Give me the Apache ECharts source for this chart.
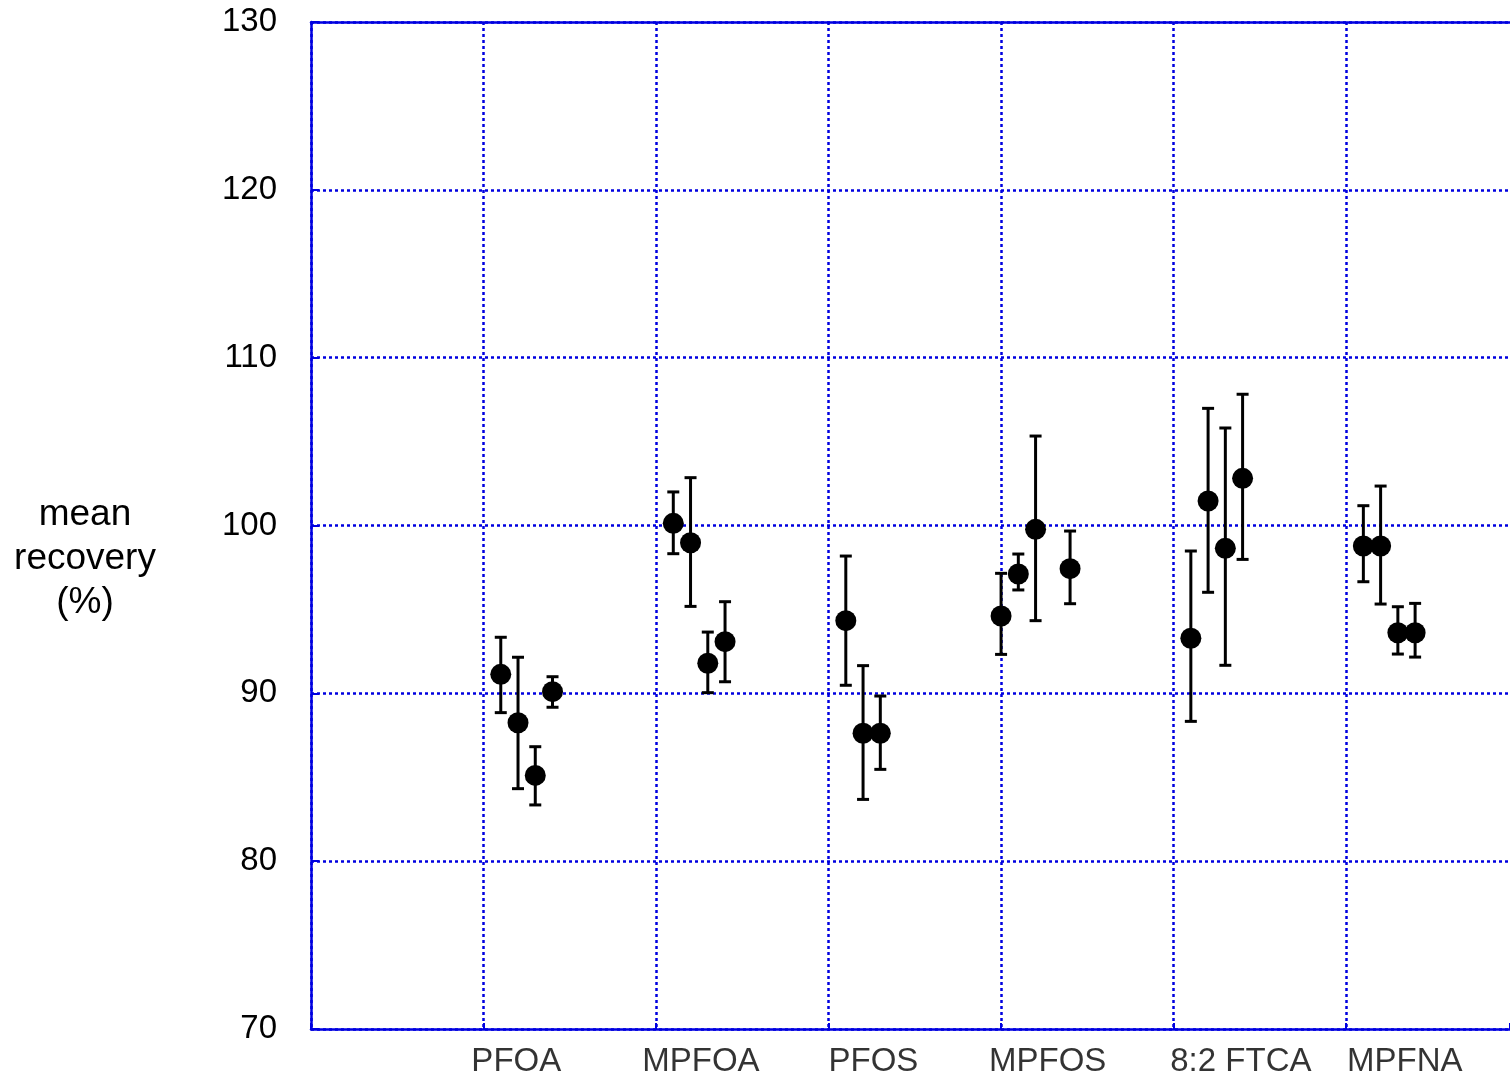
<!DOCTYPE html>
<html>
<head>
<meta charset="utf-8">
<script src="https://cdn.jsdelivr.net/npm/echarts@6/dist/echarts.min.js"></script>
<style>
  html, body { margin: 0; padding: 0; background: #fff; }
  #chart { width: 1510px; height: 1080px; }
</style>
</head>
<body>
<div id="chart"></div>
<script>
// compound labels and where they sit on the x scale
const compounds = ['PFOA', 'MPFOA', 'PFOS', 'MPFOS', '8:2 FTCA', 'MPFNA'];
const labelPos = [1.19, 2.26, 3.26, 4.27, 5.39, 6.34];

// each point: [x position, mean, lower, upper]
const pfoa = [[1.1, 91.13, 88.85, 93.34], [1.2, 88.25, 84.32, 92.15], [1.3, 85.11, 83.35, 86.82], [1.4, 90.10, 89.17, 90.99]];
const mpfoa = [[2.1, 100.13, 98.32, 102.0], [2.2, 98.97, 95.18, 102.85], [2.3, 91.79, 90.04, 93.65], [2.4, 93.08, 90.69, 95.46]];
const pfos = [[3.1, 94.33, 90.48, 98.18], [3.2, 87.62, 83.68, 91.65], [3.3, 87.62, 85.47, 89.84]];
const mpfos = [[4.0, 94.61, 92.32, 97.15], [4.1, 97.11, 96.16, 98.3], [4.2, 99.77, 94.33, 105.33], [4.4, 97.43, 95.34, 99.67]];
const ftca = [[5.1, 93.28, 88.33, 98.48], [5.2, 101.46, 96.02, 106.98], [5.3, 98.64, 91.67, 105.81], [5.4, 102.81, 97.98, 107.82]];
const mpfna = [[6.1, 98.78, 96.65, 101.18], [6.2, 98.78, 95.32, 102.35], [6.3, 93.61, 92.34, 95.16], [6.4, 93.61, 92.16, 95.36]];

const yTicks = [70, 80, 90, 100, 110, 120, 130];

const allPoints = [].concat(pfoa, mpfoa, pfos, mpfos, ftca, mpfna);

const blue = '#0000e0';
const font = 'Liberation Sans, Arial, sans-serif';

const chart = echarts.init(document.getElementById('chart'));

chart.setOption({
  backgroundColor: '#fff',
  animation: false,
  title: {
    text: 'mean\nrecovery\n(%)',
    left: 80,
    top: 488,
    textAlign: 'center',
    textStyle: { color: '#000', fontSize: 37, fontWeight: 'normal', fontFamily: font, lineHeight: 44 }
  },
  // the frame is cut by the picture's right edge, so x stops short of 7
  grid: { left: 311, top: 22, right: 0, bottom: 51 },
  xAxis: [
    {
      type: 'value',
      min: 0, max: 6.95, interval: 1,
      axisLine: { show: true, onZero: false, lineStyle: { color: blue, width: 2.5 } },
      axisTick: { show: true, inside: true, length: 6, lineStyle: { color: blue, width: 2 } },
      axisLabel: { show: false },
      splitLine: { show: true, showMaxLine: false, lineStyle: { color: blue, width: 2.5, type: [3, 3] } }
    },
    {
      type: 'value',
      position: 'top',
      min: 0, max: 6.95, interval: 1,
      axisLine: { show: true, onZero: false, lineStyle: { color: blue, width: 2.5 } },
      axisTick: { show: false },
      axisLabel: { show: false },
      splitLine: { show: false }
    }
  ],
  yAxis: {
    type: 'value',
    min: yTicks[0], max: yTicks[yTicks.length - 1], interval: 10,
    axisLine: { show: true, onZero: false, lineStyle: { color: blue, width: 2.5 } },
    axisTick: { show: true, inside: true, length: 8, lineStyle: { color: blue, width: 2 } },
    axisLabel: { color: '#000', fontSize: 33, fontFamily: font, margin: 34 },
    splitLine: { show: true, lineStyle: { color: blue, width: 2.5, type: [3, 3] } }
  },
  series: [
    {
      type: 'custom',
      xAxisIndex: 0,
      clip: false,
      data: allPoints,
      encode: { x: 0, y: [1, 2, 3] },
      renderItem(params, api) {
        const x = api.value(0);
        const lo = api.coord([x, api.value(2)]);
        const hi = api.coord([x, api.value(3)]);
        const half = 6;
        const style = { stroke: '#000', lineWidth: 3 };
        return {
          type: 'group',
          children: [
            { type: 'line', shape: { x1: lo[0], y1: lo[1], x2: hi[0], y2: hi[1] }, style },
            { type: 'line', shape: { x1: hi[0] - half, y1: hi[1], x2: hi[0] + half, y2: hi[1] }, style },
            { type: 'line', shape: { x1: lo[0] - half, y1: lo[1], x2: lo[0] + half, y2: lo[1] }, style }
          ]
        };
      },
      z: 3
    },
    {
      type: 'scatter',
      xAxisIndex: 0,
      symbol: 'circle',
      symbolSize: 21,
      itemStyle: { color: '#000', opacity: 1 },
      data: allPoints.map(p => [p[0], p[1]]),
      z: 4
    },
    {
      type: 'scatter',
      xAxisIndex: 0,
      clip: false,
      symbolSize: 0,
      silent: true,
      data: compounds.map((name, i) => ({ value: [labelPos[i], yTicks[0]], name })),
      label: {
        show: true,
        position: 'inside',
        offset: [0, 33],
        formatter: p => p.name,
        color: '#000',
        fontSize: 33,
        fontFamily: font
      }
    }
  ]
});
</script>
</body>
</html>
